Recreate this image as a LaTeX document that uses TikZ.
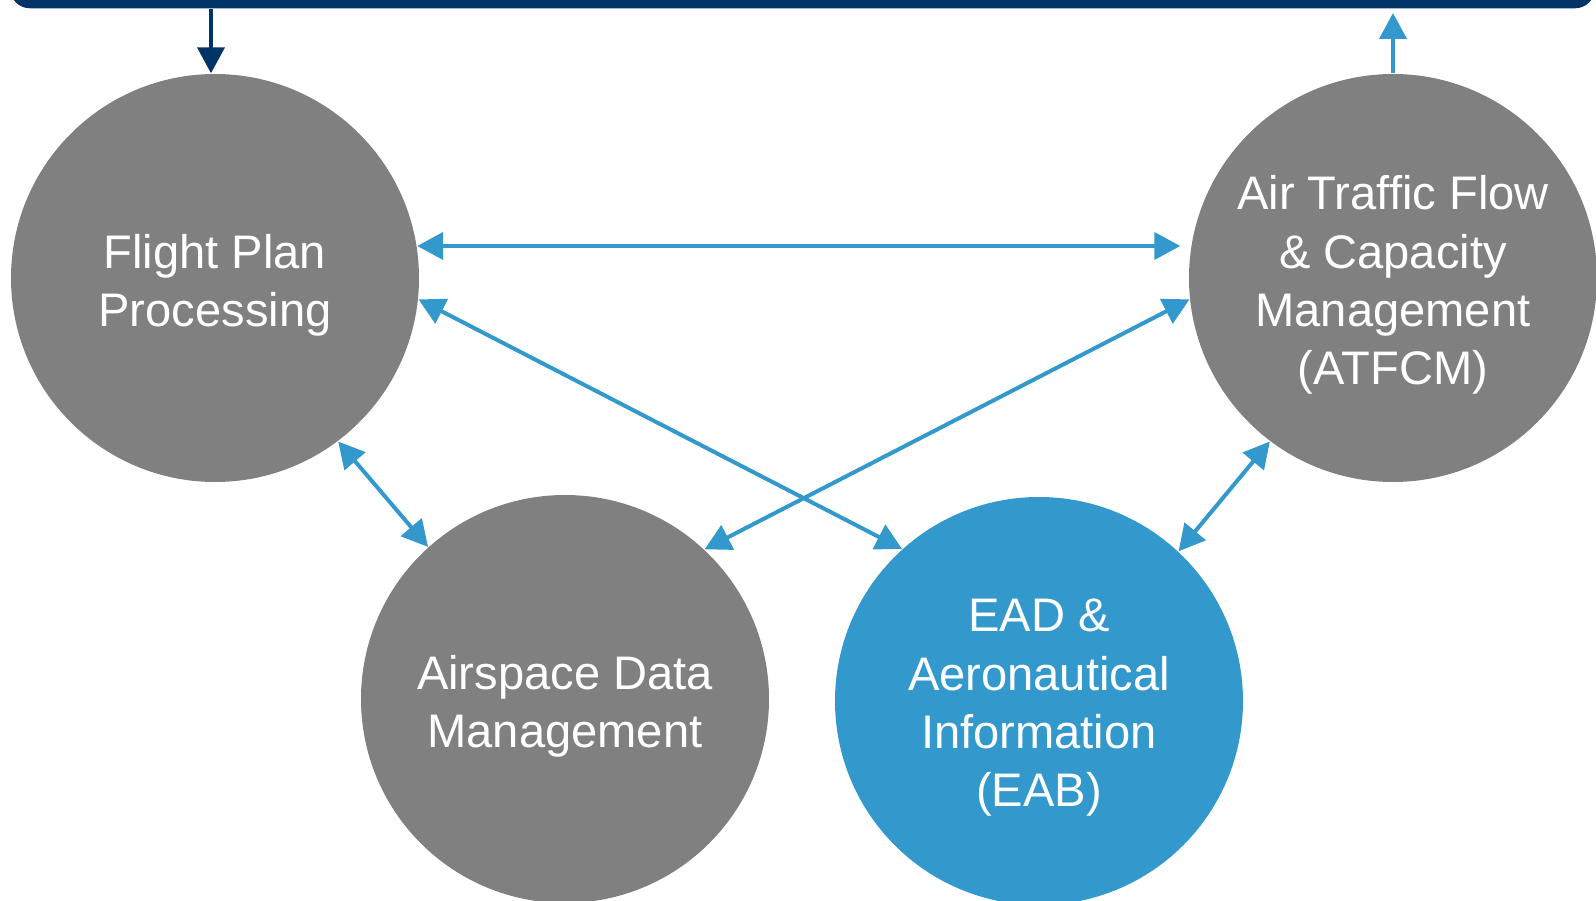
\documentclass[tikz,border=0pt]{standalone}
\usepackage{fontspec}
\setmainfont{Liberation Sans}
\usepackage{xcolor}
\usepackage{tikz}
\usetikzlibrary{calc,positioning,arrows.meta}

\definecolor{navy}{RGB}{0,51,102}
\definecolor{skyblue}{RGB}{51,153,204}
\definecolor{midgrey}{RGB}{128,128,128}

\tikzset{
	hub/.style={circle, fill=midgrey, minimum size=4.08cm, inner sep=0pt},
	hubtext/.style={text=white, align=center, inner sep=0pt, font=\fontsize{13.4}{16.6}\selectfont},
	link/.style={draw=skyblue, line width=0.4mm,
		{Triangle[length=2.6mm,width=2.7mm]}-{Triangle[length=2.6mm,width=2.7mm]}},
	uplink/.style={draw=skyblue, line width=0.4mm, -{Triangle[length=2.6mm,width=2.7mm]}},
	downlink/.style={draw=navy, line width=0.4mm, -{Triangle[length=2.6mm,width=2.7mm]}}
}

\begin{document}
\begin{tikzpicture}
			\useasboundingbox (0,0) rectangle (15.96,-9.01);
			\clip (0,0) rectangle (15.96,-9.01);
			\node[fill=navy, rounded corners=0.2cm, minimum width=15.85cm, minimum height=0.6cm, anchor=south] at (8.025,-0.09) (sys) {};
			\node[hub] at (2.15,-2.78) (fpp) {};
			\node[hub] at (13.93,-2.78) (atfcm) {};
			\node[hub] at (5.65,-6.99) (asm) {};
			\node[hub, fill=skyblue] at (10.39,-7.01) (ead) {};
			\node[hubtext] at ([yshift=-0.07cm]fpp.center) (fpptext) {Flight Plan\\Processing};
			\node[hubtext] at ([yshift=-0.07cm]atfcm.center) (atfcmtext) {Air Traffic Flow\\\& Capacity\\Management\\(ATFCM)};
			\node[hubtext] at ([yshift=-0.07cm]asm.center) (asmtext) {Airspace Data\\Management};
			\node[hubtext] at ([yshift=-0.07cm]ead.center) (eadtext) {EAD \&\\Aeronautical\\Information\\(EAB)};
			\coordinate (fppin) at ([xshift=-0.04cm]fpp.north);
			\draw[downlink] (fppin |- sys.south) -- (fppin);
			\draw[uplink, shorten >=0.4mm] (atfcm.north) -- (atfcm.north |- sys.south);
			\draw[link, shorten >=0.08cm] (fpp.9.3) -- (fpp.9.3 -| atfcm.west);
			\draw[link] (fpp.-6.5) -- (ead.132.2);
			\draw[link] (atfcm.186.4) -- (asm.47.4);
			\draw[link] (fpp.-53.5) -- (asm.132.8);
			\draw[link] (atfcm.233.2) -- (ead.47.3);
		\end{tikzpicture}
\end{document}
